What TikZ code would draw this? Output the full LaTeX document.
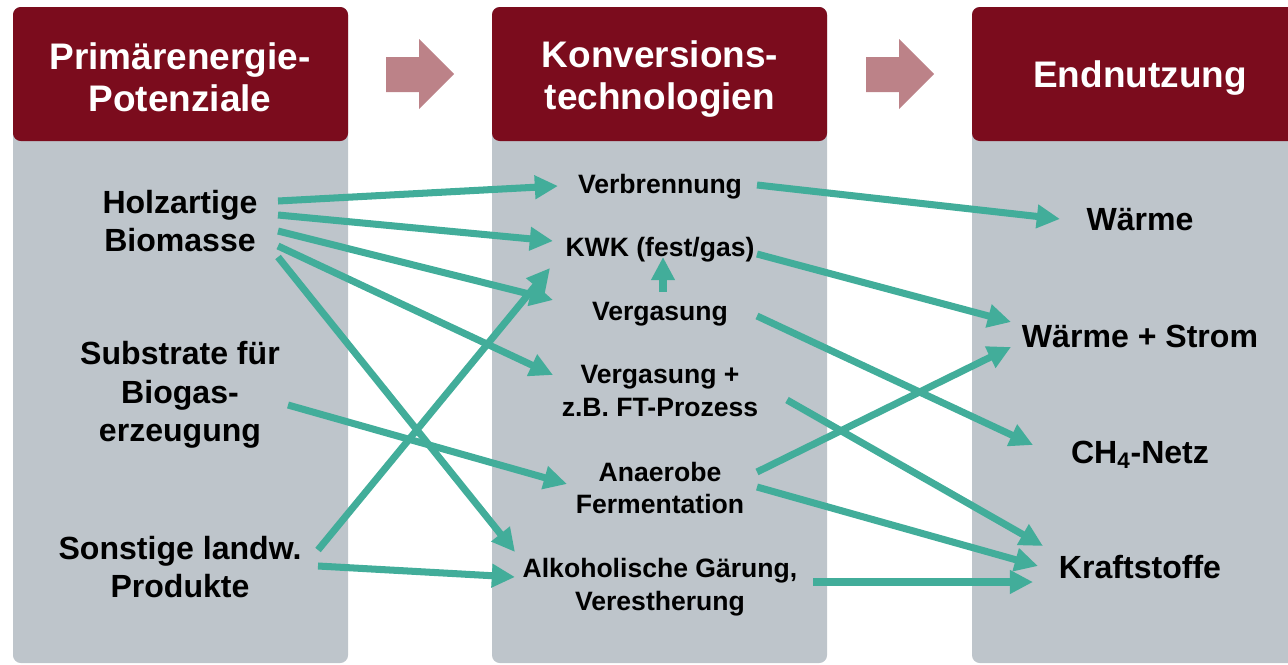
\documentclass[tikz,border=0pt]{standalone}
\usepackage{fontspec}
\setmainfont{Liberation Sans}
\usetikzlibrary{arrows.meta,calc}
\definecolor{kopfrot}{HTML}{7B0C1D}
\definecolor{spaltengrau}{HTML}{BEC5CB}
\definecolor{pfeilrosa}{HTML}{BC8288}
\definecolor{flussgruen}{HTML}{42AD9A}
\begin{document}
\begin{tikzpicture}[x=0.025cm,y=-0.025cm,line join=round,>={Triangle[length=16.5pt,width=16pt]},
    kopf/.style={text=white,align=center,font=\bfseries\fontsize{26.3}{29.9}\selectfont},
    gross/.style={align=center,font=\bfseries\fontsize{22.8}{27.4}\selectfont},
    klein/.style={align=center,font=\bfseries\fontsize{18.9}{23.1}\selectfont},
    fluss/.style={->,draw=flussgruen,line width=5pt}]
        \useasboundingbox (0,0) rectangle (1288,664);
        % Spalten mit Kopf
        \foreach \x in {13,492,972}{
                \fill[spaltengrau,rounded corners=5.5pt] (\x,7) rectangle (\x+335,663);
                \fill[kopfrot,rounded corners=5.5pt] (\x,7) rectangle (\x+335,141);
        }
        \foreach \dx in {0,480}
                \fill[pfeilrosa] (386+\dx,57)--(419+\dx,57)--(419+\dx,39)--(454+\dx,74)--(419+\dx,109)--(419+\dx,92)--(386+\dx,92)--cycle;
        \node[kopf] (kopfa) at (180,77) {Primärenergie-\\Potenziale};
        \node[kopf] (kopfb) at (660,79) {Konversions-\\technologien};
        \node[kopf] (kopfc) at (1140,78) {Endnutzung};
        % Quellen
        \node[gross] (holz) at (180,221) {Holzartige\\Biomasse};
        \node[gross] (subst) at (180,395) {Substrate für\\Biogas-\\erzeugung};
        \node[gross] (sonst) at (180,567) {Sonstige landw.\\Produkte};
        % Konversion
        \node[klein] (verb) at (660,187) {Verbrennung};
        \node[klein] (kwk) at (660,250) {KWK (fest/gas)};
        \node[klein] (verg) at (660,314) {Vergasung};
        \node[klein] (vergft) at (660,391) {Vergasung +\\z.B. FT-Prozess};
        \node[klein] (anaer) at (660,488) {Anaerobe\\Fermentation};
        \node[klein] (alk) at (660,587) {Alkoholische Gärung,\\Verestherung};
        % Nutzung
        \node[gross] (waerme) at (1140,220) {Wärme};
        \node[gross] (ws) at (1140,336) {Wärme + Strom};
        \node[gross] (ch4) at (1140,455) {CH\textsubscript{4}-Netz};
        \node[gross] (kraft) at (1140,567) {Kraftstoffe};
        % Pfade links
        \draw[fluss] ($(holz)+(98,-20)$) -- ($(verb)+(-102,-1)$);
        \draw[fluss] ($(holz)+(98,-6)$) -- ($(kwk)+(-107,-9)$);
        \draw[fluss] ($(holz)+(98,10)$) -- ($(verg)+(-107,-14)$);
        \draw[fluss] ($(holz)+(98,25)$) -- ($(vergft)+(-107,-16)$);
        \draw[fluss] ($(holz)+(98,36)$) -- ($(alk)+(-145,-35)$);
        \draw[fluss] ($(subst)+(108,10)$) -- ($(anaer)+(-93,-4)$);
        \draw[fluss] ($(sonst)+(138,-17)$) -- ($(kwk)+(-110,18)$);
        \draw[fluss] ($(sonst)+(138,-1)$) -- ($(alk)+(-145,-10)$);
        \draw[fluss] ($(verg)+(3,-22)$) -- ($(kwk)+(3,7)$);
        % Pfade rechts
        \draw[fluss] ($(verb)+(97,-2)$) -- ($(waerme)+(-80,-1)$);
        \draw[fluss] ($(kwk)+(97,4)$) -- ($(ws)+(-129,-14)$);
        \draw[fluss] ($(verg)+(97,2)$) -- ($(ch4)+(-107,-10)$);
        \draw[fluss] ($(anaer)+(97,-16)$) -- ($(ws)+(-129,11)$);
        \draw[fluss] ($(vergft)+(127,9)$) -- ($(kraft)+(-97,-21)$);
        \draw[fluss] ($(anaer)+(97,-1)$) -- ($(kraft)+(-102,-1)$);
        \draw[fluss] ($(alk)+(153,-5)$) -- ($(kraft)+(-107,15)$);
\end{tikzpicture}
\end{document}
